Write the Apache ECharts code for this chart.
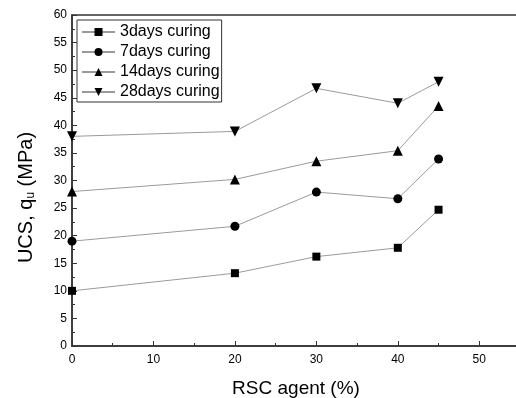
<!DOCTYPE html>
<html>
<head>
<meta charset="utf-8">
<script src="https://cdn.jsdelivr.net/npm/echarts@6/dist/echarts.min.js"></script>
<style>
  html, body { margin: 0; padding: 0; background: #fff; }
  #chart { width: 516px; height: 398px; }
</style>
</head>
<body>
<div id="chart"></div>
<script>
const rscAgent = [0, 20, 30, 40, 45];
const days3 = [10.0, 13.2, 16.2, 17.8, 24.7];
const days7 = [19.0, 21.7, 27.9, 26.7, 33.9];
const days14 = [28.0, 30.2, 33.5, 35.4, 43.5];
const days28 = [38.0, 38.9, 46.7, 44.0, 47.9];
const seriesNames = ["3days curing", "7days curing", "14days curing", "28days curing"];

const chartDom = document.getElementById("chart");
const myChart = echarts.init(chartDom);

const font = "'Liberation Sans', Arial, sans-serif";

function makeSeries(name, values, symbol, size, rotate) {
  return {
    name: name,
    type: "line",
    data: rscAgent.map((x, i) => [x, values[i]]),
    symbol: symbol,
    symbolSize: size,
    symbolRotate: rotate || 0,
    clip: false,
    lineStyle: { color: "#9a9a9a", width: 1 },
    itemStyle: { color: "#000" },
  };
}

const option = {
  animation: false,
  grid: {
    left: 72,
    top: 15,
    width: 448,
    height: 331,
    containLabel: false,
    outerBoundsMode: "none",
    show: true,
    borderColor: "#333",
    borderWidth: 1.5,
  },
  legend: {
    left: 77,
    top: 20,
    orient: "vertical",
    itemGap: 2,
    itemWidth: 33,
    itemHeight: 10,
    padding: [3, 2, 1, 4],
    borderColor: "#333",
    borderWidth: 1,
    textStyle: { fontFamily: font, fontSize: 16, color: "#000", lineHeight: 18 },
    data: seriesNames,
  },
  xAxis: {
    type: "value",
    min: 0,
    max: 55,
    interval: 10,
    name: "RSC agent (%)",
    nameLocation: "middle",
    nameGap: 33,
    nameTextStyle: { fontFamily: font, fontSize: 19, color: "#000" },
    axisLine: { show: true, lineStyle: { color: "#333", width: 1.5 } },
    axisTick: { show: true, inside: true, length: 5, lineStyle: { color: "#333" } },
    minorTick: { show: true, splitNumber: 2, length: 3, lineStyle: { color: "#333" } },
    axisLabel: {
      fontFamily: font,
      fontSize: 12,
      color: "#000",
      formatter: v => (v > 50 ? "" : v),
    },
    splitLine: { show: false },
  },
  yAxis: {
    type: "value",
    min: 0,
    max: 60,
    interval: 5,
    name: "{a|UCS, q}{s|u}{a| (MPa)}",
    nameLocation: "middle",
    nameGap: 35,
    nameTextStyle: {
      padding: [0, 34, 0, 0],
      rich: {
        a: { fontFamily: font, fontSize: 20, color: "#000" },
        s: { fontFamily: font, fontSize: 12, color: "#000", verticalAlign: "bottom", padding: [9, 0, 0, 0] },
      },
    },
    axisLine: { show: true, lineStyle: { color: "#333", width: 1.5 } },
    axisTick: { show: true, inside: true, length: 5, lineStyle: { color: "#333" } },
    minorTick: { show: true, splitNumber: 2, length: 3, lineStyle: { color: "#333" } },
    axisLabel: { fontFamily: font, fontSize: 12, color: "#000", margin: 5 },
    splitLine: { show: false },
  },
  series: [
    makeSeries(seriesNames[0], days3, "rect", 8),
    makeSeries(seriesNames[1], days7, "circle", 9),
    makeSeries(seriesNames[2], days14, "triangle", 10),
    makeSeries(seriesNames[3], days28, "triangle", 10, 180),
  ],
};

myChart.setOption(option);
</script>
</body>
</html>
